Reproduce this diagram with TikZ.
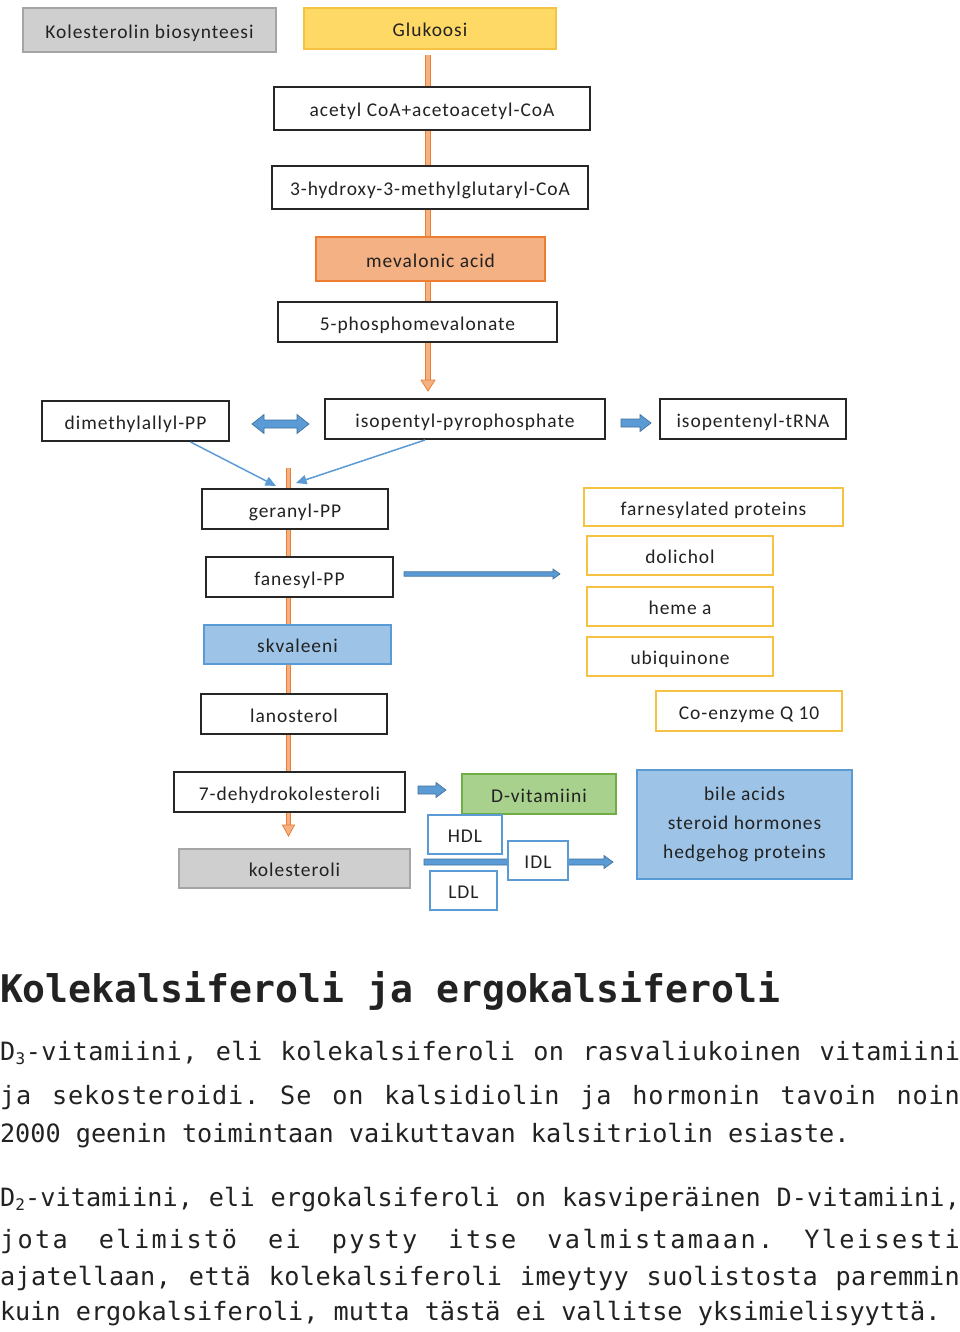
\documentclass[tikz,border=0pt]{standalone}
\usepackage{fontspec}
\setmainfont{Carlito}[LetterSpace=5]
\newfontfamily\monof{DejaVu Sans Mono}
\usetikzlibrary{arrows.meta,shadows,calc,backgrounds}
\definecolor{txt}{HTML}{222222}
\definecolor{grayL}{HTML}{CFCFCF}
\definecolor{grayD}{HTML}{A5A5A5}
\definecolor{yelL}{HTML}{FFD966}
\definecolor{yelD}{HTML}{F5C242}
\definecolor{orL}{HTML}{F4B183}
\definecolor{orD}{HTML}{ED7D31}
\definecolor{bluL}{HTML}{9DC3E6}
\definecolor{bluD}{HTML}{5B9BD5}
\definecolor{bluE}{HTML}{41719C}
\definecolor{grnL}{HTML}{A9D18E}
\definecolor{grnD}{HTML}{70AD47}
\definecolor{body}{HTML}{222222}
\newcommand\bx[7]{%
  \pgfmathsetmacro\bxcx{(#3+#5)/2}%
  \pgfmathsetmacro\bxcy{(#4+#6)/2}%
  \pgfmathsetmacro\bxw{(#5-#3)*0.75}%
  \pgfmathsetmacro\bxh{(#6-#4)*0.75}%
  \node[#2, minimum width=\bxw pt, minimum height=\bxh pt] (#1) at (\bxcx,\bxcy) {#7};%
}
% right block arrow: x1,x2,y,shaft half,head half,head length
\newcommand\rarrow[6]{%
  \filldraw[barrow] (#1,#3-#4) -- (#2-#6,#3-#4) -- (#2-#6,#3-#5) -- (#2,#3) --
    (#2-#6,#3+#5) -- (#2-#6,#3+#4) -- (#1,#3+#4) -- cycle;}
% justified line: glue between letters (weight 1) and wider glue between words
\def\jlsp{\hskip 0.602em plus 4.7fil\relax}
\ExplSyntaxOn
\tl_new:N \l_jlmy_tl
\NewDocumentCommand\jl{m}{
  \tl_set:Nn \l_jlmy_tl {#1}
  \tl_replace_all:Nnn \l_jlmy_tl {~} {\jlsp}
  \hbox_to_wd:nn {720pt} {
    \tl_map_inline:Nn \l_jlmy_tl { ##1 \hskip 0pt plus 1fil\relax }
    \unskip
  }
}
\ExplSyntaxOff
\newcommand\subd[1]{\raisebox{-3pt}{\fontsize{12}{12}\selectfont #1}}
\newcommand\bodyfont{\monof\fontsize{18.9}{21}\selectfont\frenchspacing}
\newcommand\headfont{\monof\bfseries\fontsize{28.6}{30}\selectfont}
\newcommand\diafont{\fontsize{14.6}{17.4}\selectfont}
\tikzset{
  base/.style={rectangle, inner sep=0pt, outer sep=0pt, text=txt, font=\diafont},
  one/.style={base, text height=12pt, text depth=0pt},
  blk/.style={one, draw=black!85, line width=1.4pt, fill=white,
    drop shadow={shadow xshift=1pt, shadow yshift=-1pt, fill=black!30}},
  gry/.style={one, draw=grayD, fill=grayL, line width=0.9pt},
  yelF/.style={one, draw=yelD, fill=yelL, line width=0.9pt},
  orF/.style={one, draw=orD, fill=orL, line width=0.9pt},
  bluF/.style={one, draw=bluD, fill=bluL, line width=0.9pt},
  bluM/.style={base, draw=bluD, fill=bluL, line width=0.9pt},
  grnF/.style={one, draw=grnD, fill=grnL, line width=0.9pt},
  yelO/.style={one, draw=yelD, fill=white, line width=1.5pt},
  bluO/.style={one, draw=bluD, fill=white, line width=1.1pt},
  barrow/.style={fill=bluD, draw=bluE, line width=0.5pt},
  thinb/.style={draw=bluD, line width=1.1pt, -{Triangle[length=8pt,width=7pt]}},
  orout/.style={draw=orD, line width=4.2pt},
  orin/.style={draw=orL, line width=2.4pt},
  headt/.style={base, anchor=base west, text=body, font=\headfont},
  bodyt/.style={base, anchor=base west, text=body, font=\bodyfont},
}
\begin{document}
\begin{tikzpicture}[x=0.75pt,y=-0.75pt]
\useasboundingbox (0,0) rectangle (960,1332);

% ---------- boxes ----------
\bx{title}{gry}{23}{8}{276}{52}{Kolesterolin biosynteesi}
\bx{gluk}{yelF}{304}{8}{556}{49}{Glukoosi}
\bx{acet}{blk}{274}{87}{590}{130}{acetyl CoA+acetoacetyl-CoA}
\bx{hmg}{blk}{272}{166}{588}{209}{3-hydroxy-3-methylglutaryl-CoA}
\bx{meva}{orF}{316}{237}{545}{281}{mevalonic acid}
\bx{phos}{blk}{278}{302}{557}{342}{5-phosphomevalonate}
\bx{dim}{blk}{42}{401}{229}{441}{dimethylallyl-PP}
\bx{isop}{blk}{325}{399}{605}{439}{isopentyl-pyrophosphate}
\bx{trna}{blk}{660}{399}{846}{439}{isopentenyl-tRNA}
\bx{ger}{blk}{202}{489}{388}{529}{geranyl-PP}
\bx{fan}{blk}{206}{557}{393}{597}{fanesyl-PP}
\bx{skv}{bluF}{204}{625}{391}{664}{skvaleeni}
\bx{lan}{blk}{201}{694}{387}{734}{lanosterol}
\bx{dehy}{blk}{174}{772}{405}{812}{7-dehydrokolesteroli}
\bx{kol}{gry}{179}{849}{410}{888}{kolesteroli}
\bx{farn}{yelO}{584}{488}{843}{526}{farnesylated proteins}
\bx{doli}{yelO}{587}{536}{773}{575}{dolichol}
\bx{heme}{yelO}{587}{587}{773}{626}{heme a}
\bx{ubi}{yelO}{587}{637}{773}{676}{ubiquinone}
\bx{coq}{yelO}{656}{691}{842}{731}{Co-enzyme Q 10}
\bx{dvit}{grnF}{462}{774}{616}{814}{D-vitamiini}
\bx{bile}{bluM}{637}{770}{852}{879}{\begin{tabular}{@{}c@{}}bile acids\\[4.3pt] steroid hormones\\[4.3pt] hedgehog proteins\end{tabular}}

% ---------- orange main chains (behind boxes) ----------
\coordinate (c1) at (428,0);
\coordinate (c2) at (288.5,0);
\begin{pgfonlayer}{background}
  \fill[white] (0,0) rectangle (960,1332);
  \draw[orout] ($(gluk.south -| c1)+(0,6)$) -- ($(isop.north -| c1)+(0,-17)$);
  \draw[orin]  ($(gluk.south -| c1)+(0,6)$) -- ($(isop.north -| c1)+(0,-17)$);
  \draw[orout] ($(ger.north -| c2)+(0,-21)$) -- ($(kol.north -| c2)+(0,-22)$);
  \draw[orin]  ($(ger.north -| c2)+(0,-21)$) -- ($(kol.north -| c2)+(0,-22)$);
\end{pgfonlayer}
\filldraw[fill=orL, draw=orD, line width=0.6pt]
  ($(isop.north -| c1)+(-7,-19)$) -- ($(isop.north -| c1)+(7,-19)$) -- ($(isop.north -| c1)+(0,-8)$) -- cycle;
\filldraw[fill=orL, draw=orD, line width=0.6pt]
  ($(kol.north -| c2)+(-6,-24)$) -- ($(kol.north -| c2)+(6,-24)$) -- ($(kol.north -| c2)+(0,-13)$) -- cycle;

% ---------- blue block arrows ----------
\filldraw[barrow] (252,424) -- (264,414.5) -- (264,420) -- (297,420) -- (297,414.5)
  -- (309,424) -- (297,433.5) -- (297,428) -- (264,428) -- (264,433.5) -- cycle;
\rarrow{621}{651}{423}{4}{8.5}{11}
\rarrow{418}{446}{790}{4}{7.5}{10}
\rarrow{404}{560}{574}{2.2}{5}{7}
\rarrow{424}{613}{862}{3}{6.5}{9}

% ---------- thin blue arrows ----------
\draw[thinb] ($(dim.south)+(55,1)$) -- ($(ger.north)+(-19,-3)$);
\draw[thinb] ($(isop.south)+(-40,1)$) -- ($(ger.north)+(1,-6)$);

% ---------- lipoproteins (on top of the long arrow) ----------
\bx{hdl}{bluO}{428}{815}{502}{854}{HDL}
\bx{idl}{bluO}{508}{841}{568}{880}{IDL}
\bx{ldl}{bluO}{430}{871}{497}{910}{LDL}

% ---------- text ----------
\node[headt] (h1) at (0,1002) {Kolekalsiferoli ja ergokalsiferoli};
\node[bodyt] (p1a) at (0,1060) {\jl{D{\subd{3}}-vitamiini, eli kolekalsiferoli on rasvaliukoinen vitamiini}};
\node[bodyt] (p1b) at (0,1104) {\jl{ja sekosteroidi. Se on kalsidiolin ja hormonin tavoin noin}};
\node[bodyt] (p1c) at (0,1142) {2000 geenin toimintaan vaikuttavan kalsitriolin esiaste.};
\node[bodyt] (p2a) at (0,1206) {\jl{D{\subd{2}}-vitamiini, eli ergokalsiferoli on kasviperäinen D-vitamiini,}};
\node[bodyt] (p2b) at (0,1248) {\jl{jota elimistö ei pysty itse valmistamaan. Yleisesti}};
\node[bodyt] (p2c) at (0,1285) {\jl{ajatellaan, että kolekalsiferoli imeytyy suolistosta paremmin}};
\node[bodyt] (p2d) at (0,1320) {kuin ergokalsiferoli, mutta tästä ei vallitse yksimielisyyttä.};
\end{tikzpicture}
\end{document}
